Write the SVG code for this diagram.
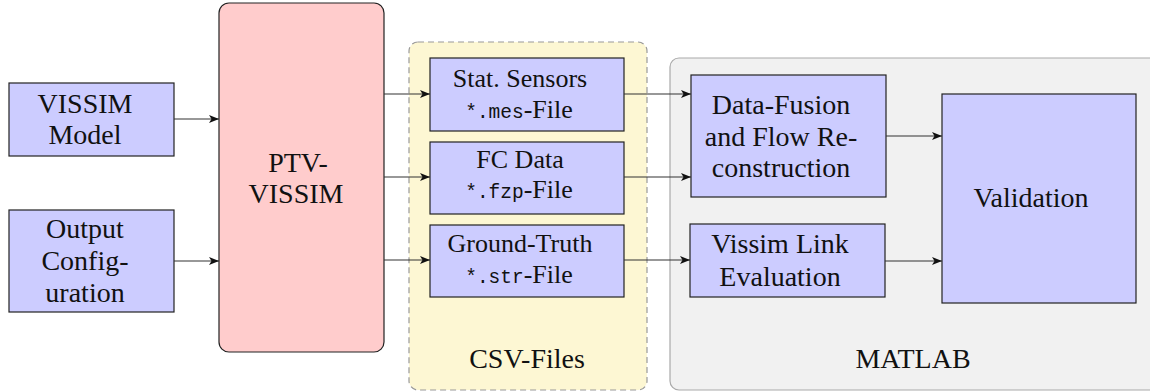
<svg xmlns="http://www.w3.org/2000/svg" width="1150" height="392" viewBox="0 0 1150 392" font-family="Liberation Serif, Times New Roman, serif">
<style>
.blue{fill:#ccccff;stroke:#222;stroke-width:1.2}
.t{font-size:28px;fill:#111;text-anchor:middle}
.s{font-size:26px;fill:#111;text-anchor:middle}
.m{font-family:"Liberation Mono","Courier New",monospace;font-size:19.5px}
.c{stroke:#333;stroke-width:1.2;fill:none;marker-end:url(#ah)}
</style>
<defs>
<marker id="ah" viewBox="0 0 10 8" refX="10" refY="4" markerWidth="10" markerHeight="8" markerUnits="userSpaceOnUse" orient="auto">
<path d="M0,0 L10,4 L0,8 L2.5,4 Z" fill="#111"/>
</marker>
</defs>
<g id="csv-files">
<rect x="409" y="42" width="238" height="348" rx="9" fill="#fdf7d3" stroke="#999" stroke-width="1.2" stroke-dasharray="6,4"/>
<text class="t" x="527" y="368">CSV-Files</text>
</g>
<g id="matlab">
<rect x="670" y="58" width="500" height="332" rx="9" fill="#f1f1f1" stroke="#aaa" stroke-width="1.2"/>
<text class="t" x="913" y="368">MATLAB</text>
</g>
<g id="vissim-model">
<rect class="blue" x="9" y="83" width="165" height="73"/>
<text class="t" x="85" y="113">VISSIM</text>
<text class="t" x="85" y="144">Model</text>
</g>
<g id="output-configuration">
<rect class="blue" x="9" y="210" width="165" height="102"/>
<text class="t" x="85" y="238">Output</text>
<text class="t" x="85" y="270">Config-</text>
<text class="t" x="85" y="302">uration</text>
</g>
<g id="ptv-vissim">
<rect x="219" y="3" width="165" height="349" rx="10" fill="#ffcccc" stroke="#222" stroke-width="1.2"/>
<text class="t" x="298" y="172">PTV-</text>
<text class="t" x="296" y="203">VISSIM</text>
</g>
<g id="stat-sensors">
<rect class="blue" x="430" y="58" width="194" height="73"/>
<text class="s" x="520" y="87">Stat. Sensors</text>
<text class="s" x="519" y="118"><tspan class="m">*.mes</tspan>-File</text>
</g>
<g id="fc-data">
<rect class="blue" x="430" y="142" width="194" height="72"/>
<text class="s" x="520" y="168">FC Data</text>
<text class="s" x="519" y="198"><tspan class="m">*.fzp</tspan>-File</text>
</g>
<g id="ground-truth">
<rect class="blue" x="430" y="225" width="194" height="72"/>
<text class="s" x="520" y="252">Ground-Truth</text>
<text class="s" x="519" y="283"><tspan class="m">*.str</tspan>-File</text>
</g>
<g id="data-fusion">
<rect class="blue" x="691" y="75" width="195" height="122"/>
<text class="t" x="781" y="114">Data-Fusion</text>
<text class="t" x="781" y="146">and Flow Re-</text>
<text class="t" x="781" y="177">construction</text>
</g>
<g id="vissim-link-evaluation">
<rect class="blue" x="690" y="224" width="195" height="73"/>
<text class="t" x="780" y="253">Vissim Link</text>
<text class="t" x="780" y="286">Evaluation</text>
</g>
<g id="validation">
<rect class="blue" x="942" y="94" width="194" height="209"/>
<text class="t" x="1031" y="207">Validation</text>
</g>
<g id="connectors">
<path class="c" d="M174,119 H219"/>
<path class="c" d="M174,261 H219"/>
<path class="c" d="M384,94 H430"/>
<path class="c" d="M384,177 H430"/>
<path class="c" d="M384,260 H430"/>
<path class="c" d="M624,94 H691"/>
<path class="c" d="M624,177 H691"/>
<path class="c" d="M624,260 H690"/>
<path class="c" d="M886,136 H942"/>
<path class="c" d="M885,261 H942"/>
</g>
</svg>
